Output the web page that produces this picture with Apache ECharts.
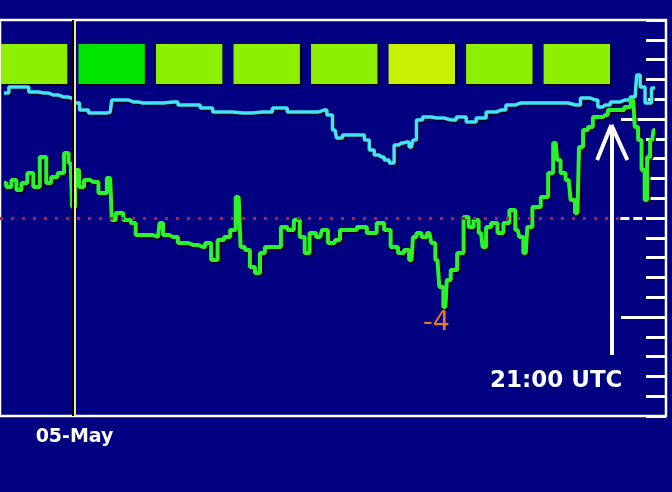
<!DOCTYPE html>
<html>
<head>
<meta charset="utf-8">
<script src="https://cdn.jsdelivr.net/npm/echarts@6/dist/echarts.min.js"></script>
<style>
  html, body { margin: 0; padding: 0; background: #000080; }
  #chart { width: 672px; height: 492px; }
</style>
</head>
<body>
<div id="chart"></div>
<script>
// hours relative to 05-May 00:00 UTC, values in axis units (0 = dotted reference line)
const cyanHours = [-2.73, -2.35, -1.96, -1.58, -1.19, -0.81, -0.42, -0.12, 0.04, 0.35, 0.73, 1.12, 1.38, 1.5, 1.88, 2.27, 2.65, 3.04, 3.81, 4.19, 4.77, 4.96, 5.73, 6.5, 7.27, 8.04, 8.42, 9.19, 9.65, 9.88, 10.08, 10.19, 10.54, 11.12, 11.31, 11.5, 11.69, 11.88, 12.08, 12.27, 12.46, 12.65, 12.85, 13.04, 13.15, 13.31, 13.62, 14.0, 14.58, 14.96, 15.35, 15.73, 16.12, 16.5, 16.88, 17.27, 18.04, 18.81, 19.38, 19.77, 20.15, 20.35, 20.54, 20.92, 21.31, 21.69, 21.81, 21.96, 22.19, 22.46]
const cyanValues = [6.31, 6.62, 6.62, 6.36, 6.31, 6.21, 6.11, 6.06, 5.81, 5.45, 5.3, 5.3, 5.35, 5.96, 5.96, 5.86, 5.81, 5.81, 5.86, 5.71, 5.71, 5.56, 5.35, 5.3, 5.35, 5.56, 5.35, 5.35, 5.45, 5.2, 4.44, 4.04, 4.19, 4.19, 3.94, 3.43, 3.18, 3.08, 2.93, 2.78, 3.69, 3.79, 3.84, 3.59, 3.94, 4.95, 5.1, 5.05, 4.95, 5.1, 4.85, 5.05, 5.35, 5.45, 5.71, 5.81, 5.81, 5.81, 5.71, 6.06, 5.96, 5.61, 5.71, 5.86, 5.96, 6.11, 7.22, 6.62, 5.81, 6.57]

const greenHours = [-2.73, -2.54, -2.35, -2.15, -1.96, -1.69, -1.5, -1.19, -1.0, -0.81, -0.5, -0.31, -0.15, -0.04, 0.08, 0.27, 0.46, 0.73, 1.12, 1.38, 1.5, 1.69, 2.08, 2.27, 2.46, 2.85, 3.23, 3.35, 3.5, 3.81, 4.19, 4.58, 4.96, 5.15, 5.42, 5.65, 5.92, 6.12, 6.35, 6.5, 6.69, 6.88, 7.08, 7.27, 7.46, 7.85, 8.12, 8.35, 8.62, 8.81, 9.0, 9.19, 9.5, 9.65, 9.96, 10.19, 10.35, 10.73, 11.12, 11.5, 11.88, 12.08, 12.38, 12.65, 12.85, 13.04, 13.15, 13.31, 13.54, 13.73, 13.88, 14.04, 14.19, 14.35, 14.46, 14.65, 14.96, 15.15, 15.35, 15.54, 15.73, 15.85, 16.0, 16.23, 16.5, 16.69, 16.96, 17.15, 17.27, 17.46, 17.58, 17.85, 18.23, 18.42, 18.62, 18.73, 18.88, 19.12, 19.27, 19.46, 19.58, 19.77, 19.96, 20.15, 20.35, 20.54, 20.73, 21.12, 21.42, 21.62, 21.73, 21.88, 22.0, 22.12, 22.19, 22.35, 22.46]
const greenValues = [1.77, 1.57, 1.92, 1.41, 1.77, 2.27, 1.57, 3.08, 1.77, 2.07, 2.27, 3.28, 2.78, 0.56, 2.42, 1.57, 1.92, 1.82, 1.26, 2.02, -0.1, 0.25, -0.1, -0.25, -0.86, -0.86, -0.96, -0.25, -0.86, -0.96, -1.26, -1.36, -1.46, -1.26, -2.12, -1.11, -0.96, -0.61, 1.06, -1.46, -1.62, -2.47, -2.78, -1.77, -1.46, -1.46, -0.45, -0.61, -0.1, -0.96, -1.77, -0.76, -0.96, -0.61, -1.26, -1.11, -0.61, -0.61, -0.45, -0.76, -0.25, -0.61, -1.46, -1.77, -1.62, -2.12, -0.96, -0.76, -0.96, -0.76, -1.26, -2.12, -3.48, -4.49, -3.13, -2.63, -1.77, 0.05, -0.45, -0.1, -0.76, -1.46, -0.45, -0.25, -0.76, -0.25, 0.4, -0.61, -0.96, -1.77, -0.45, 0.56, 1.06, 2.27, 3.79, 2.93, 2.27, 1.92, 0.91, 0.25, 3.59, 4.44, 4.6, 5.1, 5.1, 5.2, 5.45, 5.45, 5.61, 5.96, 4.6, 3.94, 2.42, 0.91, 3.08, 3.94, 4.44]

// 3-hour blocks along the top
const kpStarts = [-3, 0, 3, 6, 9, 12, 15, 18]
const kpColors = ['#8cf000', '#00e400', '#8cf000', '#8cf000', '#8cf000', '#c8f000', '#8cf000', '#8cf000']

const xMin = -2.885
const xMax = 22.885
const arrowHour = 20.77

const chart = echarts.init(document.getElementById('chart'))

function pairs(xs, ys) {
  return xs.map((x, i) => [x, ys[i]])
}

function renderKp(params, api) {
  const i = api.value(1)
  const a = api.coord([api.value(0) + 0.15, 8.79])
  const b = api.coord([api.value(0) + 2.72, 6.77])
  const shape = { x: a[0], y: a[1], width: b[0] - a[0], height: b[1] - a[1] }
  return {
    type: 'group',
    children: [
      { type: 'rect', shape: { ...shape, x: shape.x + 1.5, y: shape.y + 1.5 }, style: { fill: '#000000' } },
      { type: 'rect', shape, style: { fill: kpColors[i] } }
    ]
  }
}

function buildOption() {
  return {
    backgroundColor: '#000080',
    animation: false,
    grid: {
      left: -4,
      right: 6,
      top: 20,
      bottom: 76,
      show: true,
      borderColor: '#ffffff',
      borderWidth: 2.5
    },
    xAxis: {
      type: 'value',
      min: xMin,
      max: xMax,
      splitLine: { show: false },
      axisLine: { show: false },
      axisTick: { show: false },
      axisLabel: {
        customValues: [0],
        formatter: () => '05-May',
        color: '#ffffff',
        fontFamily: 'DejaVu Sans',
        fontWeight: 'bold',
        fontSize: 19,
        margin: 12
      }
    },
    yAxis: [
      {
        type: 'value',
        position: 'right',
        min: -10,
        max: 10,
        interval: 1,
        splitLine: { show: false },
        axisLine: { show: false, onZero: false },
        axisLabel: { show: false },
        axisTick: { inside: true, length: 20, lineStyle: { color: '#ffffff', width: 3 } }
      },
      {
        type: 'value',
        position: 'right',
        min: -10,
        max: 10,
        splitLine: { show: false },
        axisLine: { show: false, onZero: false },
        axisLabel: { show: false },
        axisTick: { inside: true, length: 45, customValues: [-5, 5], lineStyle: { color: '#ffffff', width: 3 } }
      }
    ],
    series: [
      {
        type: 'custom',
        renderItem: renderKp,
        data: kpStarts.map((h, i) => [h, i]),
        silent: true,
        z: 2
      },
      {
        type: 'line',
        data: pairs(cyanHours, cyanValues),
        showSymbol: false,
        step: 'middle',
        lineStyle: { color: '#44e4f4', width: 3.5, shadowColor: 'rgba(0,0,0,0.7)', shadowOffsetX: 1.5, shadowOffsetY: 1.5 },
        z: 3
      },
      {
        type: 'line',
        data: pairs(greenHours, greenValues),
        showSymbol: false,
        step: 'middle',
        lineStyle: { color: '#2cf22c', width: 4, shadowColor: 'rgba(0,0,0,0.8)', shadowOffsetX: 1.5, shadowOffsetY: 1.5 },
        z: 4,
        markLine: {
          silent: true,
          symbol: 'none',
          label: { show: false },
          data: [
            [
              { coord: [xMin, 0], lineStyle: { color: '#a8204c', width: 3, type: [3, 8] } },
              { coord: [21.12, 0] }
            ],
            [
              { coord: [21.12, 0], lineStyle: { color: '#ffffff', width: 3, type: [9, 4] } },
              { coord: [xMax, 0] }
            ],
            [
              { coord: [0, -10], lineStyle: { color: '#f0e68c', width: 2, type: 'solid', shadowColor: '#000000', shadowOffsetX: -2 } },
              { coord: [0, 10] }
            ]
          ]
        }
      },
      {
        type: 'line',
        data: [],
        z: 6,
        markLine: {
          silent: true,
          symbol: 'none',
          label: { show: false },
          lineStyle: { color: '#ffffff', width: 4, type: 'solid' },
          data: [
            [{ coord: [arrowHour, -6.92] }, { coord: [arrowHour, 4.6] }],
            [{ coord: [arrowHour - 0.55, 2.93] }, { coord: [arrowHour, 4.7] }],
            [{ coord: [arrowHour + 0.62, 2.93] }, { coord: [arrowHour, 4.7] }]
          ]
        }
      }
    ],
    graphic: [
      {
        type: 'text',
        left: 490,
        top: 370,
        style: { text: '21:00 UTC', fill: '#ffffff', font: 'bold 23px "DejaVu Sans"' }
      },
      {
        type: 'text',
        left: 423,
        top: 309,
        style: { text: '-4', fill: '#e87830', font: '27px "DejaVu Sans"' }
      }
    ]
  }
}

chart.setOption(buildOption())
</script>
</body>
</html>
